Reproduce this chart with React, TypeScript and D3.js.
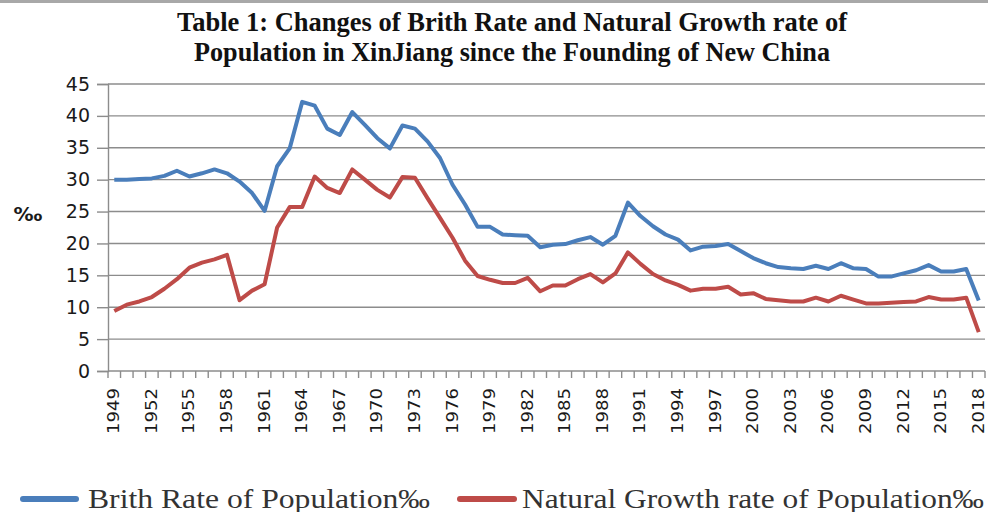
import React, { useEffect, useRef } from "react";
import * as d3 from "d3";

const years: number[] = d3.range(1949, 2019);

// birth rate (‰), 1949..2018
const birthRate: number[] = [
  30.0, 30.0, 30.1, 30.2, 30.6, 31.4, 30.5, 31.0, 31.6, 31.0,
  29.7, 27.9, 25.1, 32.1, 34.9, 42.2, 41.6, 38.0, 37.0, 40.6,
  38.6, 36.5, 34.9, 38.5, 38.0, 36.0, 33.4, 29.2, 26.1, 22.6,
  22.6, 21.4, 21.3, 21.2, 19.4, 19.8, 19.9, 20.5, 21.0, 19.8,
  21.2, 26.4, 24.3, 22.7, 21.4, 20.6, 18.9, 19.5, 19.6, 19.9,
  18.8, 17.7, 16.9, 16.3, 16.1, 16.0, 16.5, 16.0, 16.9, 16.1,
  16.0, 14.8, 14.8, 15.3, 15.8, 16.6, 15.6, 15.6, 16.0, 11.05,
];

// natural growth rate (‰), 1949..2018
const growthRate: number[] = [
  9.4, 10.4, 10.9, 11.6, 12.9, 14.4, 16.2, 17.0, 17.5, 18.2,
  11.1, 12.6, 13.6, 22.5, 25.7, 25.7, 30.5, 28.7, 27.9, 31.6,
  30.0, 28.4, 27.2, 30.4, 30.3, 27.1, 24.0, 20.9, 17.3, 14.9,
  14.3, 13.8, 13.8, 14.6, 12.5, 13.4, 13.4, 14.4, 15.2, 13.9,
  15.3, 18.6, 16.8, 15.2, 14.2, 13.5, 12.6, 12.9, 12.9, 13.2,
  12.0, 12.2, 11.3, 11.1, 10.9, 10.9, 11.5, 10.9, 11.8, 11.2,
  10.6, 10.6, 10.7, 10.8, 10.9, 11.6, 11.2, 11.2, 11.5, 6.1,
];

const yTicks: number[] = d3.range(0, 50, 5);
const xLabelYears: number[] = years.filter((y) => (y - 1949) % 3 === 0);

const titleLines: string[] = [
  "Table 1: Changes of  Brith Rate and Natural Growth rate of",
  "Population in XinJiang since the Founding of New China",
];
const seriesNames: string[] = [
  "Brith Rate of Population‰",
  "Natural Growth rate of Population‰",
];

const App = () => {
  const ref = useRef<SVGSVGElement>(null);

  useEffect(() => {
    const svg = d3.select(ref.current);
    svg.selectAll("*").remove();

    const blue = "#4a7ebb";
    const red = "#be4b48";
    const grid = "#8c8c8c";

    // frame edge at the top
    svg.append("rect").attr("x", 0).attr("y", 0).attr("width", 988).attr("height", 3).attr("fill", "#a8a8a8");

    // title
    svg
      .append("g")
      .selectAll("text")
      .data(titleLines)
      .join("text")
      .attr("x", 512)
      .attr("y", (d, i) => 31 + i * 30)
      .attr("text-anchor", "middle")
      .attr("font-family", "Liberation Serif")
      .attr("font-weight", "bold")
      .attr("font-size", 27)
      .attr("textLength", (d, i) => (i === 0 ? 670 : 636))
      .attr("lengthAdjust", "spacingAndGlyphs")
      .attr("fill", "#111")
      .text((d) => d);

    const x = d3.scaleBand<number>().domain(years).range([108, 985]).padding(0);
    const cx = (yr: number) => (x(yr) as number) + x.bandwidth() / 2;
    const y = d3.scaleLinear().domain([0, 45]).range([371, 84]);

    // gridlines
    svg
      .append("g")
      .selectAll("line")
      .data(yTicks.filter((t) => t > 0))
      .join("line")
      .attr("x1", 108)
      .attr("x2", 985)
      .attr("y1", (d) => y(d))
      .attr("y2", (d) => y(d))
      .attr("stroke", grid)
      .attr("stroke-width", 1.4);

    // y axis
    const yAxis = svg
      .append("g")
      .attr("transform", "translate(108,0)")
      .call(d3.axisLeft(y).tickValues(yTicks).tickSize(11).tickPadding(7));
    yAxis.select(".domain").attr("stroke", grid).attr("stroke-width", 1.4);
    yAxis.selectAll(".tick line").attr("stroke", grid).attr("stroke-width", 1.4);
    yAxis
      .selectAll("text")
      .attr("font-family", "DejaVu Sans")
      .attr("font-size", 19)
      .attr("fill", "#1a1a1a");

    // x axis line + ticks between categories
    svg
      .append("line")
      .attr("x1", 108)
      .attr("x2", 985)
      .attr("y1", 371)
      .attr("y2", 371)
      .attr("stroke", grid)
      .attr("stroke-width", 1.4);
    svg
      .append("g")
      .selectAll("line")
      .data([...years, 2019])
      .join("line")
      .attr("x1", (d) => (d === 2019 ? 985 : (x(d) as number)))
      .attr("x2", (d) => (d === 2019 ? 985 : (x(d) as number)))
      .attr("y1", 371)
      .attr("y2", 378)
      .attr("stroke", grid)
      .attr("stroke-width", 1.4);

    svg
      .append("g")
      .selectAll("text")
      .data(xLabelYears)
      .join("text")
      .attr("transform", (d) => `translate(${cx(d)},388) rotate(-90)`)
      .attr("text-anchor", "end")
      .attr("dominant-baseline", "central")
      .attr("font-family", "DejaVu Sans")
      .attr("font-size", 15.5)
      .attr("textLength", 46)
      .attr("lengthAdjust", "spacingAndGlyphs")
      .attr("fill", "#1a1a1a")
      .text((d) => d);

    // unit label
    svg
      .append("text")
      .attr("x", 28)
      .attr("y", 214)
      .attr("text-anchor", "middle")
      .attr("dominant-baseline", "central")
      .attr("font-family", "DejaVu Sans")
      .attr("font-weight", "bold")
      .attr("font-size", 20)
      .attr("fill", "#1a1a1a")
      .text("‰");

    // lines
    const line = d3
      .line<number>()
      .x((d, i) => cx(years[i]))
      .y((d) => y(d));

    [
      { values: birthRate, color: blue },
      { values: growthRate, color: red },
    ].forEach((s) => {
      svg
        .append("path")
        .datum(s.values)
        .attr("d", line)
        .attr("fill", "none")
        .attr("stroke", s.color)
        .attr("stroke-width", 4)
        .attr("stroke-linejoin", "round");
    });

    // legend
    const legend = [
      { name: seriesNames[0], color: blue, x0: 23, x1: 76, tx: 88, tl: 342 },
      { name: seriesNames[1], color: red, x0: 460, x1: 514, tx: 522, tl: 462 },
    ];
    const lg = svg.append("g");
    legend.forEach((l) => {
      lg.append("line")
        .attr("x1", l.x0)
        .attr("x2", l.x1)
        .attr("y1", 499)
        .attr("y2", 499)
        .attr("stroke", l.color)
        .attr("stroke-width", 6)
        .attr("stroke-linecap", "round");
      lg.append("text")
        .attr("x", l.tx)
        .attr("y", 507.5)
        .attr("font-family", "Liberation Serif")
        .attr("font-size", 27)
        .attr("textLength", l.tl)
        .attr("lengthAdjust", "spacingAndGlyphs")
        .attr("fill", "#333")
        .text(l.name);
    });
  }, []);

  return (
    <svg
      ref={ref}
      width={988}
      height={512}
      style={{ position: "absolute", left: 0, top: 0, background: "#fff" }}
    />
  );
};

export default App;
